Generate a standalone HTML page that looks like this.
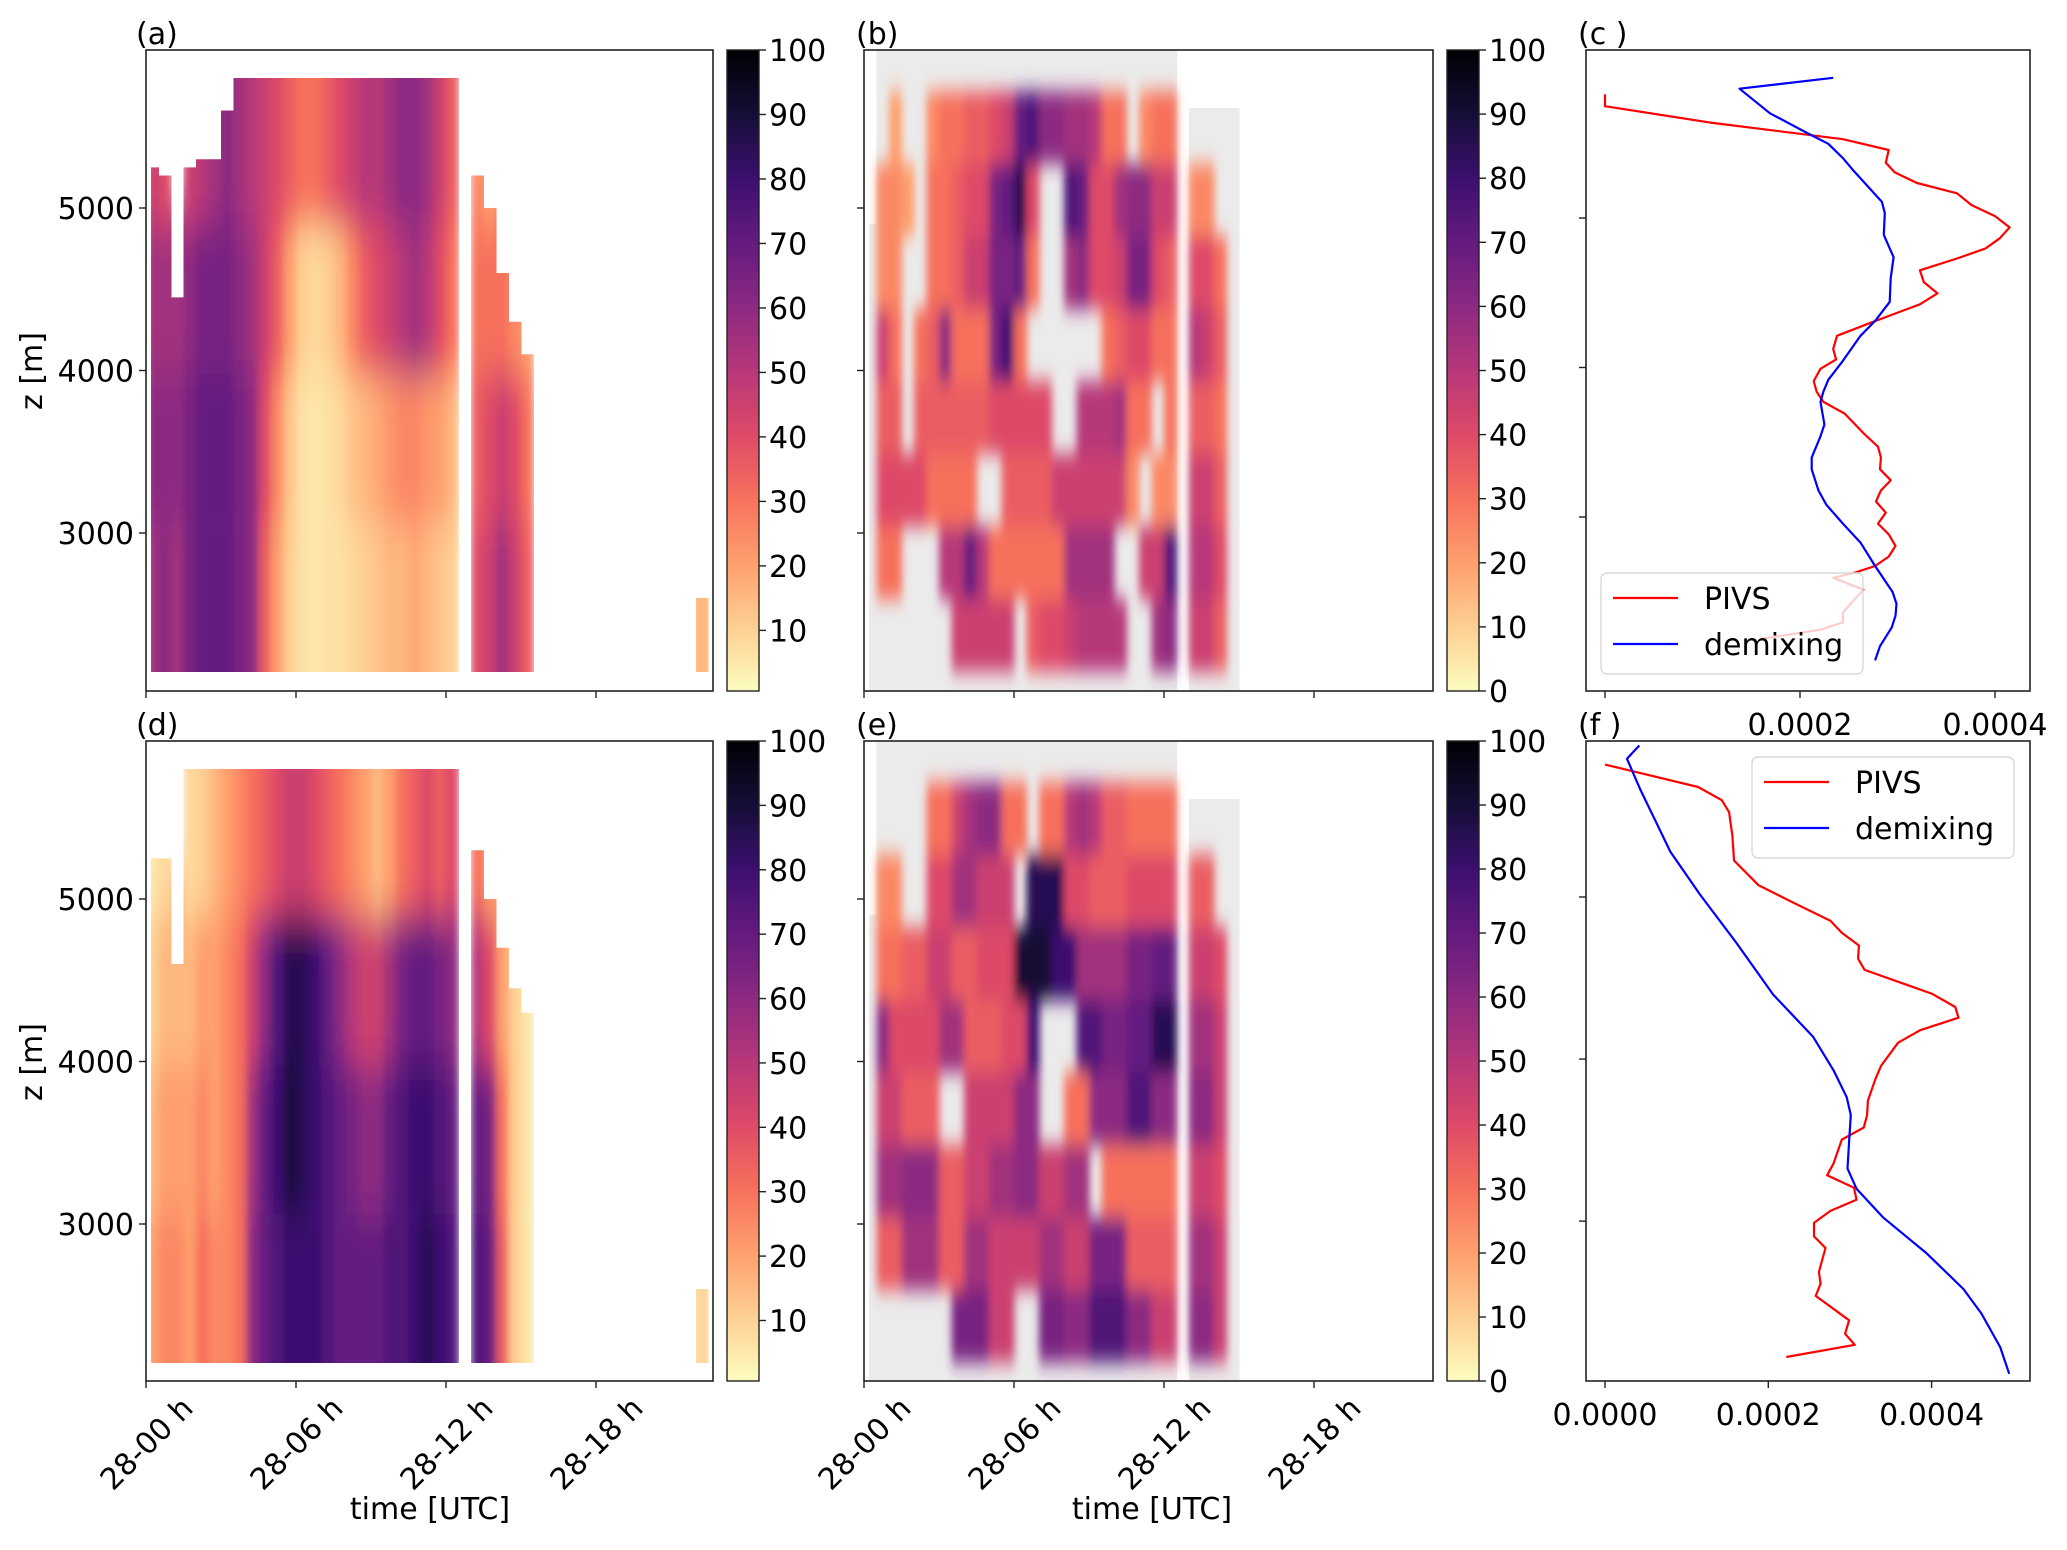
<!DOCTYPE html>
<html><head><meta charset="utf-8">
<style>
html,body{margin:0;padding:0;background:#fff;}
svg text{font-family:"DejaVu Sans","Liberation Sans",sans-serif;fill:#000;}
</style></head>
<body>
<svg id="fig" width="2067" height="1545" viewBox="0 0 2067 1545" xmlns="http://www.w3.org/2000/svg">
<defs id="defs">
  <linearGradient id="magmaR" x1="0" y1="1" x2="0" y2="0"></linearGradient>
  <filter id="blurA" x="-5%" y="-10%" width="110%" height="120%"><feGaussianBlur stdDeviation="4 22"/></filter>
  <filter id="blurB" x="-5%" y="-5%" width="110%" height="110%"><feGaussianBlur stdDeviation="4 10"/></filter>
  <clipPath id="clipA"><rect x="146" y="50" width="567" height="641"/></clipPath>
  <clipPath id="clipB"><rect x="864" y="50" width="569" height="641"/></clipPath>
  <clipPath id="clipD"><rect x="146" y="741" width="567" height="640"/></clipPath>
  <clipPath id="clipE"><rect x="864" y="741" width="569" height="640"/></clipPath>
</defs>
<g id="layer"></g>
</svg>
<script>
// ---------- DATA ----------
const colStep = 0.5;
const bandsAD = [2150, 3060, 3975, 4890, 5800];
const topZA = [5250,5200,4450,5250,5300,5300,5600,5800,5800,5800,5800,5800,5800,5800,5800,5800,5800,5800,5800,5800,5800,5800,5800,5800,5800,null,5200,5000,4600,4300,4100];
const aB1 = [55,60,55,65,70,70,70,65,60,35,20,10,6,5,6,6,8,10,12,15,15,18,15,12,10,null,40,45,55,45,35];
const aB2 = [60,60,60,65,70,70,70,65,60,40,25,12,6,5,6,8,12,15,18,22,25,25,22,20,15,null,35,40,45,40,30];
const aB3 = [55,55,55,60,65,65,65,60,55,45,35,20,10,8,10,15,25,35,40,45,50,55,50,40,30,null,30,30,30,25,20];
const aB4 = [45,40,40,45,50,55,60,55,50,45,40,35,30,30,35,40,45,50,50,55,60,60,55,45,35,null,25,20,20,20,20];
const topZD = [5250,5250,4600,5800,5800,5800,5800,5800,5800,5800,5800,5800,5800,5800,5800,5800,5800,5800,5800,5800,5800,5800,5800,5800,5800,null,5300,5000,4700,4450,4300];
const dB1 = [20,25,25,20,30,25,25,30,60,70,75,80,80,80,75,70,70,70,70,75,75,80,85,80,75,null,75,70,35,10,5];
const dB2 = [15,20,20,20,25,20,25,30,55,70,80,88,85,80,75,70,65,60,60,70,75,80,80,75,70,null,70,65,30,10,5];
const dB3 = [10,15,15,15,20,20,25,30,45,60,75,85,85,80,70,60,50,45,45,55,65,70,70,65,60,null,50,40,20,10,5];
const dB4 = [5,8,10,8,10,15,20,25,30,35,40,45,45,40,35,30,25,20,15,20,30,35,40,35,40,null,30,20,10,5,5];
const patchT = [22.0, 22.5];
const patchTopA = 2600, patchValA = 15;
const patchTopD = 2600, patchValD = 8;
const dataBottom = 2145;

const bandsBE = [2150,2596,3043,3489,3935,4381,4828,5274,5720];
const grayTop = [4900,5970,5970,5970,5970,5970,5970,5970,5970,5970,5970,5970,5970,5970,5970,5970,5970,5970,5970,5970,5970,5970,5970,5970,5970,null,5615,5615,5615,5615,null];
const grayBottom = 2030;
const bR1 = [0,0,0,0,0,0,0,45,45,45,45,45,0,35,40,40,45,50,50,50,50,0,0,55,60,0,45,45,35,0,0];
const bR2 = [0,30,30,0,0,0,50,50,70,50,30,30,30,30,30,30,55,55,55,55,0,0,45,45,75,0,50,50,40,0,0];
const bR3 = [0,40,40,40,40,30,30,30,30,0,0,35,35,35,35,45,45,45,45,45,45,25,0,25,25,0,45,45,35,0,0];
const bR4 = [0,35,35,0,35,35,35,35,35,35,40,40,40,40,40,0,0,50,50,50,55,30,30,0,30,0,35,35,30,0,0];
const bR5 = [0,45,30,0,30,35,60,30,30,30,65,80,30,0,0,0,0,0,0,30,35,40,40,30,30,0,50,45,35,0,0];
const bR6 = [0,25,25,0,0,30,30,35,45,45,65,65,70,30,0,0,55,60,40,40,45,65,65,40,35,0,40,40,30,0,0];
const bR7 = [0,25,25,20,0,30,30,35,40,40,65,70,85,40,0,0,75,70,40,40,55,60,60,45,45,0,25,25,0,0,0];
const bR8 = [0,0,20,0,0,25,30,30,35,35,40,45,70,75,60,60,55,55,50,30,30,0,25,30,30,0,0,0,0,0,0];
const eR1 = [0,0,0,0,0,0,0,65,65,65,45,45,0,0,65,65,60,60,75,75,75,60,60,45,45,0,60,60,45,0,0];
const eR2 = [0,35,35,55,55,55,35,35,55,55,45,45,45,45,55,55,45,45,65,65,65,35,35,35,35,0,55,55,45,0,0];
const eR3 = [0,55,55,60,60,60,35,35,45,45,55,55,60,60,45,45,55,55,0,30,30,30,30,30,30,0,45,45,40,0,0];
const eR4 = [0,45,45,35,35,35,0,0,45,45,45,45,60,60,0,0,30,30,60,60,60,75,75,60,60,0,60,60,45,0,0];
const eR5 = [0,60,40,40,40,40,55,55,35,35,35,40,40,80,0,0,0,75,75,65,65,70,70,85,85,0,55,55,45,0,0];
const eR6 = [0,30,30,35,35,45,45,35,35,40,40,40,90,90,90,80,80,55,55,55,55,65,65,70,70,0,45,45,40,0,0];
const eR7 = [0,25,25,0,0,40,40,55,55,45,45,45,0,85,85,85,40,40,35,35,35,40,40,40,40,0,35,35,0,0,0];
const eR8 = [0,0,0,0,0,30,30,45,55,60,60,30,30,0,30,30,50,55,50,35,35,30,30,30,30,0,0,0,0,0,0];

const cRedV = [0,0,1.08,2.44,2.91,2.88,2.97,3.20,3.61,3.76,4.00,4.15,4.05,3.90,3.61,3.23,3.27,3.41,3.23,2.75,2.38,2.34,2.37,2.21,2.14,2.17,2.24,2.46,2.66,2.80,2.83,2.82,2.93,2.83,2.78,2.88,2.80,2.91,2.98,2.91,2.77,2.55,2.34,2.65,2.44,2.44,2.21,1.59];
const cRedZ = [5827,5748,5638,5527,5455,5370,5306,5234,5165,5086,5013,4937,4865,4795,4729,4650,4571,4496,4423,4306,4212,4123,4054,3991,3909,3839,3770,3691,3555,3470,3398,3319,3246,3177,3104,3029,2956,2884,2807,2735,2672,2625,2593,2514,2362,2294,2246,2183];
const cBlueV = [2.34,1.38,1.69,2.10,2.29,2.44,2.55,2.84,2.87,2.86,2.96,2.93,2.92,2.77,2.62,2.44,2.29,2.24,2.21,2.25,2.21,2.12,2.12,2.19,2.27,2.44,2.62,2.77,2.95,2.99,2.98,2.94,2.82,2.77];
const cBlueZ = [5938,5865,5701,5559,5496,5401,5316,5108,5032,4887,4738,4597,4439,4312,4212,4045,3918,3839,3770,3619,3540,3398,3319,3177,3082,2956,2829,2672,2498,2419,2340,2261,2136,2041];
const fRedV = [0,1.14,1.43,1.52,1.56,1.58,1.88,2.31,2.76,2.90,3.11,3.10,3.18,4.00,4.29,4.33,3.86,3.59,3.38,3.31,3.22,3.21,3.17,2.90,2.80,2.72,3.05,3.08,2.76,2.56,2.56,2.70,2.62,2.64,2.58,2.99,2.94,3.06,2.22];
const fRedZ = [5817,5679,5597,5523,5376,5225,5073,4964,4853,4779,4701,4619,4550,4404,4321,4255,4178,4101,3958,3875,3743,3655,3578,3503,3357,3283,3206,3132,3063,2989,2906,2834,2686,2614,2539,2388,2305,2237,2162];
const fBlueV = [0.42,0.27,0.43,0.80,1.16,1.61,2.06,2.55,2.80,2.96,3.01,2.99,2.97,3.08,3.41,3.94,4.39,4.61,4.84,4.95];
const fBlueZ = [5935,5853,5666,5280,5018,4716,4398,4137,3930,3765,3655,3490,3324,3200,3021,2801,2581,2430,2223,2058];

const timeTicks = [0,6,12,18];
const timeTickLabels = ["28-00 h","28-06 h","28-12 h","28-18 h"];
const zTicks = [3000,4000,5000];
const zTickLabels = ["3000","4000","5000"];
const cbTicksA = [10,20,30,40,50,60,70,80,90,100];
const cbTicksB = [0,10,20,30,40,50,60,70,80,90,100];
const profTicks = [0,2,4];
const profTickLabelsC = ["0.0000","0.0002","0.0004"];

// ---------- helpers ----------
const NS = "http://www.w3.org/2000/svg";
const root = document.getElementById('layer');
const defs = document.getElementById('defs');
function mk(tag, attrs, parent){
  const e = document.createElementNS(NS, tag);
  for (const k in attrs) e.setAttribute(k, attrs[k]);
  (parent||root).appendChild(e);
  return e;
}
const magmaStops = [[0,'#000004'],[0.1,'#140e36'],[0.2,'#3b0f70'],[0.3,'#641a80'],[0.4,'#8c2981'],[0.5,'#b73779'],[0.6,'#de4968'],[0.7,'#f7705c'],[0.8,'#fe9f6d'],[0.9,'#fecf92'],[1.0,'#fcfdbf']];
function hex2rgb(h){return [parseInt(h.substr(1,2),16),parseInt(h.substr(3,2),16),parseInt(h.substr(5,2),16)];}
function magmaR(v){
  let s = 1 - Math.max(0,Math.min(100,v))/100;
  for (let i=0;i<magmaStops.length-1;i++){
    const a=magmaStops[i], b=magmaStops[i+1];
    if (s<=b[0]){
      const f=(s-a[0])/(b[0]-a[0]); const ca=hex2rgb(a[1]), cb=hex2rgb(b[1]);
      return 'rgb('+ca.map((c,j)=>Math.round(c+(cb[j]-c)*f)).join(',')+')';
    }
  }
  return magmaStops[magmaStops.length-1][1];
}
const grad = document.getElementById('magmaR');
for (let k=0;k<=20;k++){
  mk('stop',{offset:(k/20),'stop-color':magmaR(k*5)},grad);
}
function tx(px0){ return t => px0 + t*25; }
function zy(y5000){ return z => y5000 - (z-5000)*0.1625; }

// ---------- heatmaps ----------
function heatAD(name, clipId, px0, y5000, topZ, rows, patchTop, patchVal){
  const X = tx(px0), Y = zy(y5000);
  const cp = mk('clipPath',{id:clipId+'data'},defs);
  for (let i=0;i<topZ.length;i++){
    if (topZ[i]===null) continue;
    const x0 = X(i*colStep + (i===0?0.2:0)), x1 = X(i*colStep+colStep);
    mk('rect',{x:x0,y:Y(topZ[i]),width:x1-x0+0.5,height:Y(dataBottom)-Y(topZ[i])},cp);
  }
  mk('rect',{x:X(patchT[0]),y:Y(patchTop),width:X(patchT[1])-X(patchT[0]),height:Y(dataBottom)-Y(patchTop)},cp);
  const gc = mk('g',{'clip-path':'url(#'+clipId+')'});
  
  
  const gd = mk('g',{'clip-path':'url(#'+clipId+'data)'},gc);
  const g = mk('g',{filter:'url(#blurA)'},gd);
  const last = rows.length-1;
  for (let r=0;r<rows.length;r++){
    for (let i=0;i<rows[r].length;i++){
      const v = rows[r][i];
      if (v===null || topZ[i]===null) continue;
      if (topZ[i] <= bandsAD[r]) continue;
      const zb = r===0 ? bandsAD[0]-600 : bandsAD[r];
      const zt = (r===last || topZ[i] <= bandsAD[r+1]) ? topZ[i]+600 : bandsAD[r+1];
      const x0 = X(i*colStep), x1 = X(i*colStep+colStep);
      const c = mk('rect',{x:x0,y:Y(zt),width:(x1-x0+0.6),height:(Y(zb)-Y(zt)),fill:magmaR(v)},g);
      
      
    }
  }
  const p = mk('rect',{x:X(patchT[0])-4,y:Y(patchTop+600),width:X(patchT[1])-X(patchT[0])+8,height:Y(dataBottom-600)-Y(patchTop+600),fill:magmaR(patchVal)},g);
  
  
}
function heatBE(name, clipId, px0, y5000, rows){
  const X = tx(px0), Y = zy(y5000);
  const gc = mk('g',{'clip-path':'url(#'+clipId+')'});
  
  
  const gg = mk('g',{},gc);
  for (let i=0;i<grayTop.length;i++){
    if (grayTop[i]===null) continue;
    const x0 = X(i*colStep + (i===0?0.2:0)), x1 = X(i*colStep+colStep);
    const r = mk('rect',{x:x0,y:Y(grayTop[i]),width:x1-x0+0.5,height:Y(grayBottom)-Y(grayTop[i]),fill:'#ebebeb'},gg);
    
    
  }
  const g = mk('g',{filter:'url(#blurB)'},gc);
  for (let r=0;r<rows.length;r++){
    for (let i=0;i<rows[r].length;i++){
      const v = rows[r][i];
      if (!v) continue;
      const x0 = X(i*colStep), x1 = X(i*colStep+colStep);
      const c = mk('rect',{x:x0,y:Y(bandsBE[r+1]),width:x1-x0+0.6,height:Y(bandsBE[r])-Y(bandsBE[r+1])+0.6,fill:magmaR(v)},g);
      
      
    }
  }
}
heatAD('heatmap-a','clipA',146,208,topZA,[aB1,aB2,aB3,aB4],patchTopA,patchValA);
heatAD('heatmap-d','clipD',146,899,topZD,[dB1,dB2,dB3,dB4],patchTopD,patchValD);
heatBE('heatmap-b','clipB',864,208,[bR1,bR2,bR3,bR4,bR5,bR6,bR7,bR8]);
heatBE('heatmap-e','clipE',864,899,[eR1,eR2,eR3,eR4,eR5,eR6,eR7,eR8]);

// ---------- axes frames ----------
function frame(name,x,y,w,h){
  const r = mk('rect',{x:x,y:y,width:w,height:h,fill:'none',stroke:'#222','stroke-width':1.6});
  
  
}
frame('axes-a',146,50,567,641); frame('axes-b',864,50,569,641); frame('axes-c',1586,50,444,641);
frame('axes-d',146,741,567,640); frame('axes-e',864,741,569,640); frame('axes-f',1586,741,444,640);

function label(name, txt, x, y, size, anchor, extra){
  const t = mk('text',Object.assign({x:x,y:y,'font-size':size,'text-anchor':anchor||'start'},extra||{}));
  t.textContent = txt;
  
  
  return t;
}
label('panel-label-a','(a)',136,44,30); label('panel-label-b','(b)',856,44,30); label('panel-label-c','(c )',1578,44,30);
label('panel-label-d','(d)',136,735,30); label('panel-label-e','(e)',856,735,30); label('panel-label-f','(f )',1578,735,30);

function zAxis(name, xLeft, y5000, withLabels){
  const Y = zy(y5000);
  zTicks.forEach((z,k)=>{
    const tk = mk('line',{x1:xLeft-7,x2:xLeft,y1:Y(z),y2:Y(z),stroke:'#222','stroke-width':1.4});
    
    
    if (withLabels) label(name+'-tick-label', zTickLabels[k], xLeft-12, Y(z)+11, 30, 'end');
  });
}
zAxis('z-axis-a',146,208,true); zAxis('z-axis-d',146,899,true);
zAxis('z-axis-b',864,208,false); zAxis('z-axis-e',864,899,false);
label('y-axis-title-a','z [m]',42,371,30,'middle',{transform:'rotate(-90 42 371)'});
label('y-axis-title-d','z [m]',42,1062,30,'middle',{transform:'rotate(-90 42 1062)'});

function tAxis(name, px0, yBottom, withLabels){
  const X = tx(px0);
  timeTicks.forEach((t,k)=>{
    const tk = mk('line',{x1:X(t),x2:X(t),y1:yBottom,y2:yBottom+7,stroke:'#222','stroke-width':1.4});
    
    
    if (withLabels){
      const cx = X(t), cy = yBottom+62;
      label(name+'-tick-label', timeTickLabels[k], cx, cy+11, 30, 'middle', {transform:'rotate(-45 '+cx+' '+cy+')'});
    }
  });
}
tAxis('time-axis-a',146,691,false); tAxis('time-axis-b',864,691,false);
tAxis('time-axis-d',146,1381,true); tAxis('time-axis-e',864,1381,true);
label('x-axis-title-d','time [UTC]',430,1519,30,'middle');
label('x-axis-title-e','time [UTC]',1152,1519,30,'middle');

function colorbar(name, x, y, h, vmin, ticks){
  const r = mk('rect',{x:x,y:y,width:32,height:h,fill:'url(#magmaR)',stroke:'#222','stroke-width':1.4});
  
  
  ticks.forEach(v=>{
    const yy = y + h - (v-vmin)/(100-vmin)*h;
    const tk = mk('line',{x1:x+32,x2:x+39,y1:yy,y2:yy,stroke:'#222','stroke-width':1.4});
    
    
    label(name+'-tick-label', String(v), x+42, yy+11, 30, 'start');
  });
}
colorbar('colorbar-a',727,50,641,0.6,cbTicksA);
colorbar('colorbar-d',727,741,640,0.6,cbTicksA);
colorbar('colorbar-b',1447,50,641,0,cbTicksB);
colorbar('colorbar-e',1447,741,640,0,cbTicksB);

// ---------- profiles ----------
const cX = v => 1605 + v*97.5;
const cY = z => 218 - (z-5000)*0.1495;
const fX = v => 1605 + v*81.65;
const fY = z => 897 - (z-5000)*0.16207;
function line(name, vs, zs, X, Y, color){
  const d = vs.map((v,i)=>(i?'L':'M')+X(v).toFixed(1)+' '+Y(zs[i]).toFixed(1)).join(' ');
  const p = mk('path',{d:d,fill:'none',stroke:color,'stroke-width':2.2,'stroke-linejoin':'round'});
  
  
}
line('pivs-line-c',cRedV,cRedZ,cX,cY,'#ff0000');
line('demixing-line-c',cBlueV,cBlueZ,cX,cY,'#0000ff');
line('pivs-line-f',fRedV,fRedZ,fX,fY,'#ff0000');
line('demixing-line-f',fBlueV,fBlueZ,fX,fY,'#0000ff');

function profAxes(name, X, Y, yBottom, withLabelsAll){
  profTicks.forEach((v,k)=>{
    const tk = mk('line',{x1:X(v),x2:X(v),y1:yBottom,y2:yBottom+7,stroke:'#222','stroke-width':1.4});
    
    
    if (withLabelsAll || k>0) label(name+'-x-tick-label', profTickLabelsC[k], X(v), yBottom+44, 30, 'middle');
  });
  zTicks.forEach(z=>{
    const tk = mk('line',{x1:1579,x2:1586,y1:Y(z),y2:Y(z),stroke:'#222','stroke-width':1.4});
    
    
  });
}
profAxes('axis-c',cX,cY,691,false);
profAxes('axis-f',fX,fY,1381,true);

function legend(name, x, y, w, h){
  const g = mk('g',{});
  
  
  mk('rect',{x:x,y:y,width:w,height:h,rx:6,fill:'rgba(255,255,255,0.8)',stroke:'#d8d8d8','stroke-width':1.4},g);
  const l1 = mk('line',{x1:x+12,x2:x+77,y1:y+25,y2:y+25,stroke:'#ff0000','stroke-width':2.2},g);
  
  
  const l2 = mk('line',{x1:x+12,x2:x+77,y1:y+71,y2:y+71,stroke:'#0000ff','stroke-width':2.2},g);
  
  
  const t1 = mk('text',{x:x+103,y:y+36,'font-size':30},g); t1.textContent='PIVS';
  
  
  const t2 = mk('text',{x:x+103,y:y+82,'font-size':30},g); t2.textContent='demixing';
  
  
}
legend('legend-c',1601,573,262,101);
legend('legend-f',1752,757,262,101);
</script>
</body></html>
